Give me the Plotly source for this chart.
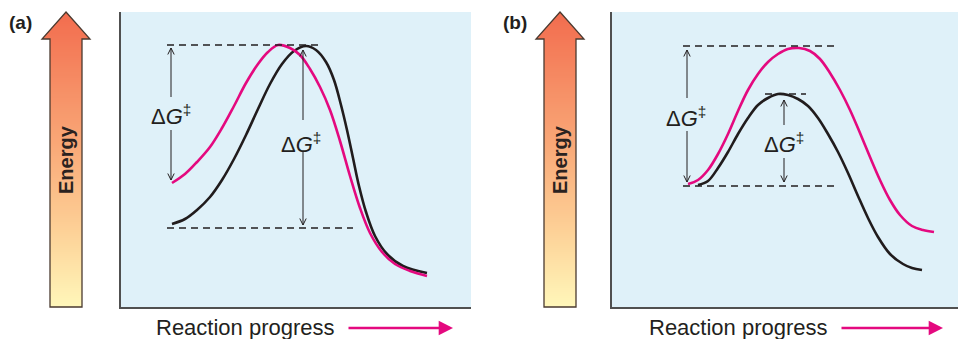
import plotly.graph_objects as go

W, H = 958, 339

# ---------------- data (reaction progress units vs energy units) ----------------
# panel (a)
a_pink_x = [51, 64, 76, 89, 101, 113, 125, 137, 147, 157, 169, 179, 189, 199, 209, 219, 229, 239, 249, 261, 274, 289, 306]
a_pink_y = [124, 133, 145, 160, 179, 201, 224, 243, 255, 262, 259, 252, 238, 220, 197, 166, 131, 99, 74, 55, 43, 36, 31]
a_black_x = [51, 64, 76, 89, 101, 113, 125, 137, 149, 161, 173, 185, 195, 205, 213, 220, 226, 232, 238, 245, 254, 266, 282, 306]
a_black_y = [83, 88, 97, 110, 127, 148, 172, 198, 223, 243, 256, 261, 257, 245, 227, 202, 177, 149, 121, 95, 71, 53, 41, 34]
# panel (b)
b_pink_x = [76, 86, 96, 106, 116, 126, 136, 146, 156, 166, 176, 187, 198, 208, 218, 228, 238, 248, 258, 268, 278, 288, 300, 311, 322]
b_pink_y = [123, 127, 137, 153, 173, 196, 217, 233, 245, 253, 258, 259, 256, 248, 234, 217, 197, 174, 150, 127, 107, 92, 81, 77, 75]
b_black_x = [86, 96, 106, 116, 126, 136, 146, 156, 166, 176, 186, 196, 206, 216, 226, 236, 246, 256, 266, 278, 291, 300, 310]
b_black_y = [122, 126, 139, 155, 173, 189, 202, 209, 213, 212, 208, 201, 189, 173, 155, 134, 111, 89, 70, 53, 43, 39, 37]

# dashed reference levels: (x0, x1, energy)
a_levels = [(46, 199, 262), (46, 232, 79)]
b_levels = [(71, 225, 261), (71, 225, 121), (153, 194, 213)]

# ΔG‡ double arrows: (x, top, bottom, gap_top, gap_bottom, label_x, label_y)
a_arrows = [(50, 259, 127, 210, 177, 50, 192), (182, 257, 82, 187, 155, 180, 164)]
b_arrows = [(75, 257, 125, 209, 176, 74, 190), (172, 207, 125, 182, 149, 172, 164)]

panel_labels = ["(a)", "(b)"]
y_label = "Energy"
x_label = "Reaction progress"

PINK = "#E4097F"
BLACK = "#211C1D"
TXT = "#231F20"
BG = "#DFF1F9"

fig = go.Figure()


def px(x):
    return x / W


def py(y):
    return 1 - y / H


panels = [
    dict(xa="x", ya="y", xd=[121, 471], xr=[0, 350], pink=(a_pink_x, a_pink_y), black=(a_black_x, a_black_y),
         levels=a_levels, arrows=a_arrows),
    dict(xa="x2", ya="y2", xd=[612, 958], xr=[0, 346], pink=(b_pink_x, b_pink_y), black=(b_black_x, b_black_y),
         levels=b_levels, arrows=b_arrows),
]

shapes = []
annotations = []

for p in panels:
    fig.add_trace(go.Scatter(x=p["black"][0], y=p["black"][1], mode="lines",
                             line=dict(color=BLACK, width=2.6, shape="spline", smoothing=1.0),
                             xaxis=p["xa"], yaxis=p["ya"], hoverinfo="skip"))
    fig.add_trace(go.Scatter(x=p["pink"][0], y=p["pink"][1], mode="lines",
                             line=dict(color=PINK, width=2.6, shape="spline", smoothing=1.0),
                             xaxis=p["xa"], yaxis=p["ya"], hoverinfo="skip"))
    for (x0, x1, e) in p["levels"]:
        shapes.append(dict(type="line", xref=p["xa"], yref=p["ya"], x0=x0, x1=x1, y0=e, y1=e,
                           line=dict(color=TXT, width=1.3, dash="7px,5px")))
    dx, dy = 3.2, 6.5
    for (x, yt, yb, gt, gb, lx, ly) in p["arrows"]:
        shapes.append(dict(type="line", xref=p["xa"], yref=p["ya"], x0=x, x1=x, y0=yt, y1=gt,
                           line=dict(color=TXT, width=1)))
        shapes.append(dict(type="line", xref=p["xa"], yref=p["ya"], x0=x, x1=x, y0=gb, y1=yb,
                           line=dict(color=TXT, width=1)))
        shapes.append(dict(type="path", xref=p["xa"], yref=p["ya"],
                           path=f"M {x-dx},{yt-dy} L {x},{yt} L {x+dx},{yt-dy}",
                           line=dict(color=TXT, width=1)))
        shapes.append(dict(type="path", xref=p["xa"], yref=p["ya"],
                           path=f"M {x-dx},{yb+dy} L {x},{yb} L {x+dx},{yb+dy}",
                           line=dict(color=TXT, width=1)))
        annotations.append(dict(xref=p["xa"], yref=p["ya"], x=lx, y=ly, showarrow=False,
                                xanchor="center", yanchor="middle",
                                text="Δ<i>G</i><sup>‡</sup>",
                                font=dict(family="Liberation Sans", size=22, color=TXT)))

ydom = [py(307), py(12)]
for i, p in enumerate(panels):
    sfx = "" if i == 0 else "2"
    axis_common = dict(showgrid=False, zeroline=False, showticklabels=False, ticks="",
                       showline=True, linecolor="#505050", linewidth=1.5, mirror=False,
                       fixedrange=True)
    fig.update_layout(**{
        "xaxis" + sfx: dict(domain=[px(p["xd"][0]), px(p["xd"][1])], range=p["xr"],
                            anchor="y" + sfx, **axis_common),
        "yaxis" + sfx: dict(domain=ydom, range=[0, 295], anchor="x" + sfx, **axis_common),
    })


def lerp(c1, c2, t):
    return tuple(round(a + (b - a) * t) for a, b in zip(c1, c2))


stops = [(0.0, (242, 108, 78)), (0.45, (249, 168, 119)), (0.75, (253, 210, 152)), (1.0, (255, 247, 186))]


def grad(t):
    for (t0, c0), (t1, c1) in zip(stops[:-1], stops[1:]):
        if t <= t1:
            return "rgb(%d,%d,%d)" % lerp(c0, c1, (t - t0) / (t1 - t0))
    return "rgb(%d,%d,%d)" % stops[-1][1]


def energy_arrow(cx, top=12, neck=39, bottom=307, hw_shaft=16, hw_head=24):
    step = 2
    y = top
    while y < bottom:
        y2 = min(y + step + 0.6, bottom)
        col = grad((y + step / 2 - top) / (bottom - top))
        if y2 <= neck:
            w1 = (y - top) / (neck - top) * hw_head
            w2 = (y2 - top) / (neck - top) * hw_head
            path = (f"M {px(cx-w1)},{py(y)} L {px(cx+w1)},{py(y)} "
                    f"L {px(cx+w2)},{py(y2)} L {px(cx-w2)},{py(y2)} Z")
        elif y < neck:
            w1 = (y - top) / (neck - top) * hw_head
            path = (f"M {px(cx-w1)},{py(y)} L {px(cx+w1)},{py(y)} L {px(cx+hw_head)},{py(neck)} "
                    f"L {px(cx+hw_shaft)},{py(neck)} L {px(cx+hw_shaft)},{py(y2)} "
                    f"L {px(cx-hw_shaft)},{py(y2)} L {px(cx-hw_shaft)},{py(neck)} "
                    f"L {px(cx-hw_head)},{py(neck)} Z")
        else:
            path = (f"M {px(cx-hw_shaft)},{py(y)} L {px(cx+hw_shaft)},{py(y)} "
                    f"L {px(cx+hw_shaft)},{py(y2)} L {px(cx-hw_shaft)},{py(y2)} Z")
        shapes.append(dict(type="path", xref="paper", yref="paper", path=path,
                           fillcolor=col, line=dict(width=0), layer="below"))
        y += step
    outline = (f"M {px(cx)},{py(top)} L {px(cx+hw_head)},{py(neck)} L {px(cx+hw_shaft)},{py(neck)} "
               f"L {px(cx+hw_shaft)},{py(bottom)} L {px(cx-hw_shaft)},{py(bottom)} "
               f"L {px(cx-hw_shaft)},{py(neck)} L {px(cx-hw_head)},{py(neck)} Z")
    shapes.append(dict(type="path", xref="paper", yref="paper", path=outline,
                       fillcolor="rgba(0,0,0,0)", line=dict(color="#4A3A30", width=1.3)))
    annotations.append(dict(xref="paper", yref="paper", x=px(cx), y=py(160), text=y_label,
                            textangle=-90, showarrow=False, xanchor="center", yanchor="middle",
                            font=dict(family="Liberation Sans", size=20, color="#2A2220", weight="bold")))


energy_arrow(66)
energy_arrow(560)

for lab, cx in zip(panel_labels, [20, 515]):
    annotations.append(dict(xref="paper", yref="paper", x=px(cx), y=py(22), text=f"<b>{lab}</b>",
                            showarrow=False, xanchor="center", yanchor="middle",
                            font=dict(family="Liberation Sans", size=19, color=TXT)))

for tx, ax0, ax1 in [(245, 347, 453), (738, 840, 943)]:
    annotations.append(dict(xref="paper", yref="paper", x=px(tx), y=py(327), text=x_label,
                            showarrow=False, xanchor="center", yanchor="middle",
                            font=dict(family="Liberation Sans", size=22, color=TXT)))
    annotations.append(dict(xref="paper", yref="paper", x=px(ax1), y=py(328), ax=-(ax1 - ax0), ay=0,
                            text="", showarrow=True, arrowhead=2, arrowsize=1.1, arrowwidth=2.6,
                            arrowcolor=PINK))

fig.update_layout(width=W, height=H, margin=dict(l=0, r=0, t=0, b=0), autosize=False,
                  paper_bgcolor="white", plot_bgcolor=BG, showlegend=False,
                  shapes=shapes, annotations=annotations)

fig.write_html("out.html", config={"displayModeBar": False},
               post_script="document.body.style.margin='0px';")
